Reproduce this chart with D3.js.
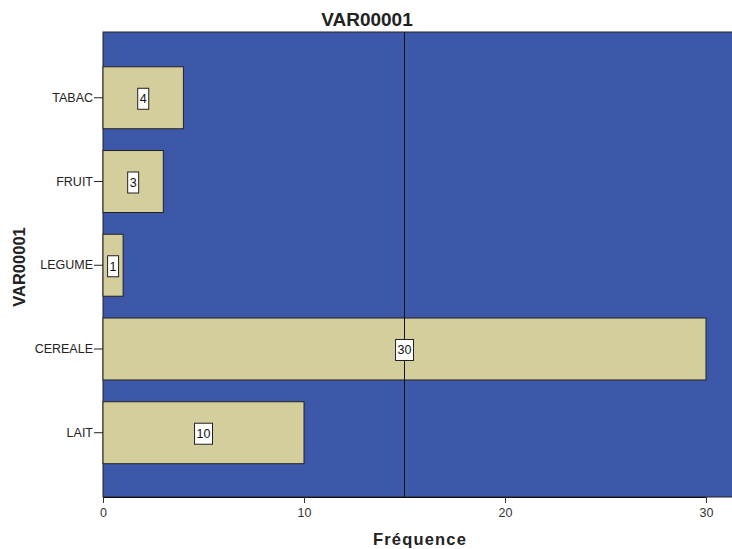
<!DOCTYPE html>
<html><head><meta charset="utf-8">
<script src="https://cdn.jsdelivr.net/npm/d3@7"></script>
<style>body{margin:0;background:#fff}svg{display:block}text{font-family:"Liberation Sans",Arial,sans-serif}</style>
</head><body>
<script>
const categories = ["TABAC","FRUIT","LEGUME","CEREALE","LAIT"];
const values = [4,3,1,30,10];
const xTicks = [0,10,20,30];
const refLine = 15;
const title = "VAR00001";
const yTitle = "VAR00001";
const xTitle = "Fréquence";

const W = 732, H = 549;
const L = 103, T = 32, B = 497, R = 740;
const svg = d3.select("body").append("svg").attr("width", W).attr("height", H);

const x = d3.scaleLinear().domain([0, 30]).range([L, 706]);
const y = d3.scaleBand().domain(categories).range([55.9, 474.6]).paddingInner(0.26).paddingOuter(0.13);

svg.append("rect").attr("x", L).attr("y", T).attr("width", R - L).attr("height", B - T)
  .attr("fill", "#3D58A8").attr("stroke", "#222").attr("stroke-width", 1);

svg.selectAll(".bar").data(categories).join("rect")
  .attr("x", L).attr("y", d => y(d))
  .attr("width", (d, i) => x(values[i]) - x(0))
  .attr("height", y.bandwidth())
  .attr("fill", "#D3CE9B").attr("stroke", "#222").attr("stroke-width", 1);

svg.append("line").attr("x1", x(refLine)).attr("x2", x(refLine)).attr("y1", T).attr("y2", B)
  .attr("stroke", "#111").attr("stroke-width", 1);

// value labels
categories.forEach((c, i) => {
  const cx = x(values[i] / 2), cy = y(c) + y.bandwidth() / 2 + 1;
  const g = svg.append("g");
  const t = g.append("text").attr("x", cx).attr("y", cy + 4.5).attr("text-anchor", "middle")
    .attr("font-size", 12.5).attr("fill", "#111").text(values[i]);
  const bb = t.node().getBBox();
  g.insert("rect", "text").attr("x", bb.x - 2).attr("y", cy - 10.5).attr("width", bb.width + 4).attr("height", 21)
    .attr("fill", "#fff").attr("stroke", "#222").attr("stroke-width", 1);
});

// x axis
const xa = svg.append("g").attr("transform", `translate(0,${B})`)
  .call(d3.axisBottom(x).tickValues(xTicks).tickSize(6).tickSizeOuter(0));
xa.select(".domain").attr("stroke", "#111");
xa.selectAll(".tick line").attr("stroke", "#333");
xa.selectAll(".tick text").attr("font-size", 12.5).attr("fill", "#333").attr("y", 20).attr("dy", null)
  .attr("font-family", "Liberation Sans, Arial, sans-serif");

// y axis
const ya = svg.append("g").attr("transform", `translate(${L},0)`)
  .call(d3.axisLeft(y).tickSize(9).tickSizeOuter(0).tickPadding(1));
ya.select(".domain").remove();
ya.selectAll(".tick line").attr("stroke", "#222");
ya.selectAll(".tick text").attr("font-size", 12.5).attr("fill", "#222")
  .attr("font-family", "Liberation Sans, Arial, sans-serif");

svg.append("text").attr("x", 367).attr("y", 26).attr("text-anchor", "middle")
  .attr("font-size", 19).attr("font-weight", "bold").attr("fill", "#222").text(title);
svg.append("text").attr("transform", `translate(25,${267}) rotate(-90)`).attr("text-anchor", "middle")
  .attr("font-size", 16.5).attr("font-weight", "bold").attr("fill", "#222").text(yTitle);
svg.append("text").attr("x", 420).attr("y", 545).attr("text-anchor", "middle")
  .attr("font-size", 16.5).attr("letter-spacing", 1.2).attr("font-weight", "bold").attr("fill", "#222").text(xTitle);
</script>
</body></html>
